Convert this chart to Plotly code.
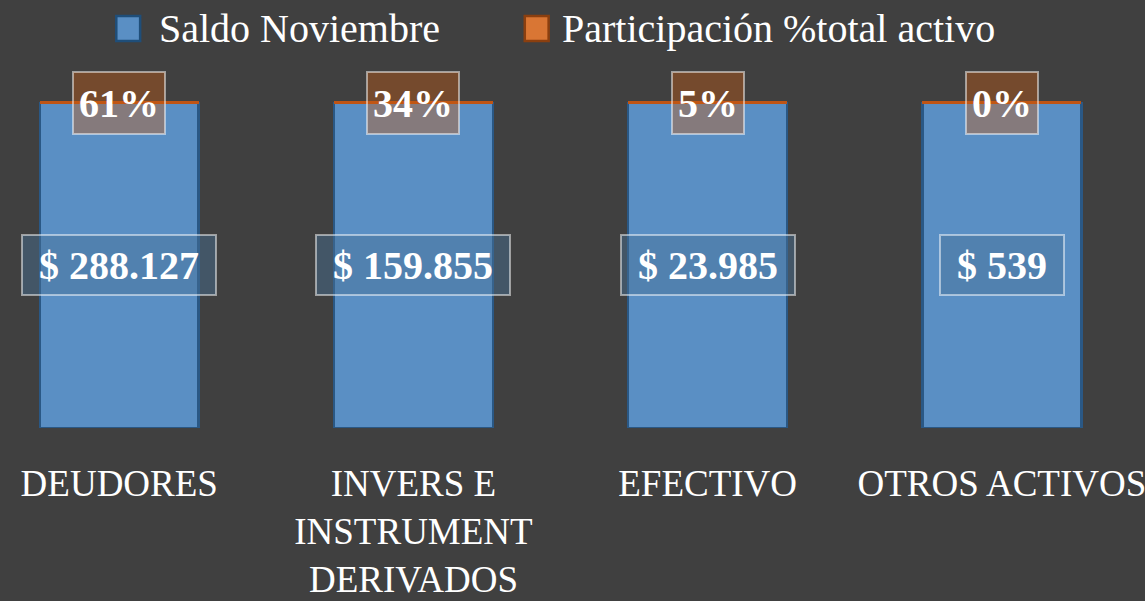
import plotly.graph_objects as go

# Balance de activos a noviembre y su participación sobre el total
categorias = ["DEUDORES", "INVERS E<br>INSTRUMENT<br>DERIVADOS", "EFECTIVO", "OTROS ACTIVOS"]
saldo_noviembre = [288127, 159855, 23985, 539]
participacion = [0.61, 0.34, 0.05, 0.001]

serie_saldo = "Saldo Noviembre"
serie_part = "Participación %total activo"

FONDO = "#404040"
AZUL = "#5a8fc4"
AZUL_BORDE = "#2a5885"
NARANJA = "#d97634"
NARANJA_BORDE = "#bf5414"
SERIF = "Liberation Serif, Times New Roman, serif"

fig = go.Figure()

fig.add_trace(go.Bar(
    x=categorias, y=saldo_noviembre, name=serie_saldo,
    marker=dict(color=AZUL, line=dict(color=AZUL_BORDE, width=2.5)),
    width=0.54, showlegend=False, hoverinfo="skip",
))
fig.add_trace(go.Bar(
    x=categorias, y=participacion, name=serie_part,
    marker=dict(color=NARANJA, line=dict(color=NARANJA_BORDE, width=3)),
    width=0.54, showlegend=False, hoverinfo="skip",
))

annotations = []
for cat, saldo, part in zip(categorias, saldo_noviembre, participacion):
    # etiqueta del saldo, centrada en la columna
    annotations.append(dict(
        x=cat, y=50, xref="x", yref="y",
        text="&nbsp;<b>$ " + f"{saldo:,}".replace(",", ".") + "</b>&nbsp;",
        showarrow=False, xanchor="center", yanchor="middle",
        font=dict(family=SERIF, size=40, color="white"),
        bgcolor="rgba(72,112,150,0.45)",
        bordercolor="rgba(255,255,255,0.5)", borderwidth=2, borderpad=6,
        height=46,
    ))
    # etiqueta de participación sobre el borde superior
    annotations.append(dict(
        x=cat, y=100, xref="x", yref="y",
        text=f"<b>{part:.0%}</b>",
        showarrow=False, xanchor="center", yanchor="middle",
        font=dict(family=SERIF, size=40, color="white"),
        bgcolor="rgba(197,90,17,0.4)",
        bordercolor="rgba(255,255,255,0.5)", borderwidth=2, borderpad=5,
        height=50,
    ))

# leyenda superior
W, H = 1145, 601
TOP, BOT = 54, 173
plot_h = H - TOP - BOT

def py(p):
    return (H - BOT - p) / plot_h

shapes = [
    dict(type="rect", xref="paper", yref="paper",
         x0=117 / W, x1=141 / W, y0=py(41), y1=py(16),
         fillcolor=AZUL, line=dict(color="#1f4e79", width=2.5)),
    dict(type="rect", xref="paper", yref="paper",
         x0=528 / W, x1=552 / W, y0=py(41), y1=py(16),
         fillcolor=NARANJA, line=dict(color="#8b3f0f", width=2.5)),
]
annotations.append(dict(
    x=158 / W, y=py(29), xref="paper", yref="paper", text=serie_saldo,
    showarrow=False, xanchor="left", yanchor="middle",
    font=dict(family=SERIF, size=40, color="white"),
))
annotations.append(dict(
    x=563 / W, y=py(29), xref="paper", yref="paper", text=serie_part,
    showarrow=False, xanchor="left", yanchor="middle",
    font=dict(family=SERIF, size=40, color="white"),
))

fig.update_layout(
    width=W, height=H,
    barmode="stack", barnorm="percent",
    paper_bgcolor=FONDO, plot_bgcolor=FONDO,
    margin=dict(l=0, r=0, t=TOP, b=BOT),
    showlegend=False,
    annotations=annotations, shapes=shapes,
    xaxis=dict(
        type="category", range=[-0.4054, 3.4628],
        showgrid=False, zeroline=False, showline=False, ticks="",
        tickfont=dict(family=SERIF, size=37, color="white"),
        ticklabelstandoff=30,
    ),
    yaxis=dict(
        range=[0, 115], visible=False, showgrid=False, zeroline=False,
    ),
)

fig.write_html("out.html")
